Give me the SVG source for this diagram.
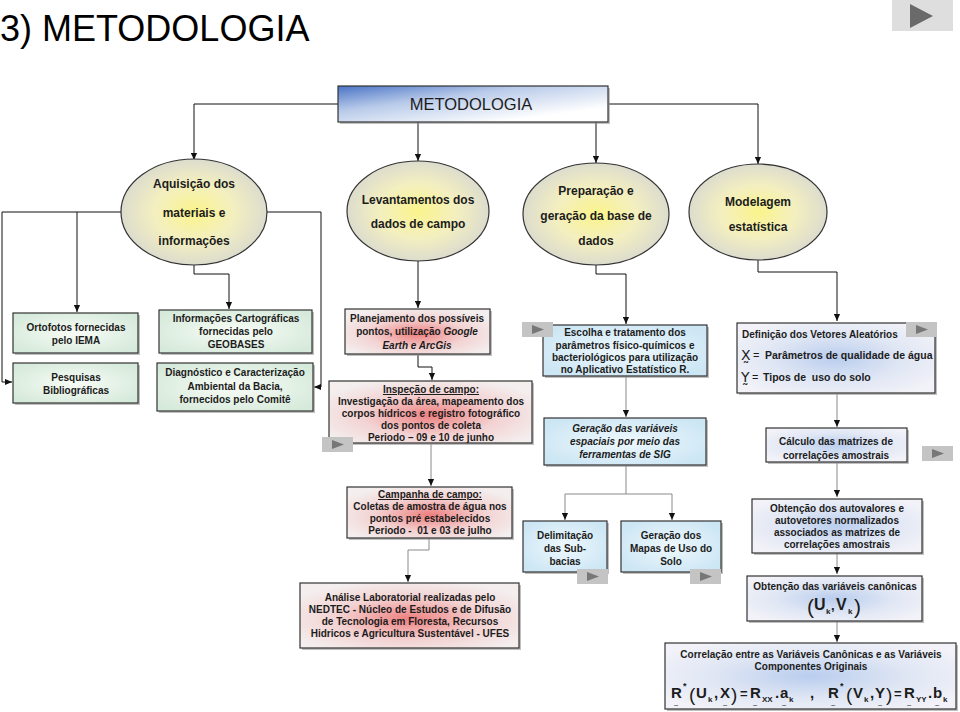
<svg xmlns="http://www.w3.org/2000/svg" width="960" height="712" viewBox="0 0 960 712">
<defs>
<radialGradient id="gY" cx="50%" cy="50%" r="55%"><stop offset="0" stop-color="#fbf48c"/><stop offset="0.5" stop-color="#f3efc0"/><stop offset="1" stop-color="#d8d8d0"/></radialGradient>
<radialGradient id="gG" cx="50%" cy="50%" r="60%"><stop offset="0" stop-color="#f8fcf6"/><stop offset="1" stop-color="#d6eadb"/></radialGradient>
<radialGradient id="gP" cx="50%" cy="55%" r="60%"><stop offset="0" stop-color="#ee7f7f"/><stop offset="0.55" stop-color="#f3d2d2"/><stop offset="1" stop-color="#f4eeee"/></radialGradient>
<radialGradient id="gC" cx="50%" cy="50%" r="60%"><stop offset="0" stop-color="#eef8fd"/><stop offset="1" stop-color="#cce6f4"/></radialGradient>
<radialGradient id="gL" cx="50%" cy="50%" r="60%"><stop offset="0" stop-color="#b9cdee"/><stop offset="0.55" stop-color="#dfe6f4"/><stop offset="1" stop-color="#f2f2f8"/></radialGradient>
<linearGradient id="gB" x1="0" y1="0" x2="1" y2="1"><stop offset="0" stop-color="#4a74c6"/><stop offset="0.35" stop-color="#b8cae9"/><stop offset="0.8" stop-color="#ffffff"/></linearGradient>
<marker id="ah" viewBox="0 0 8 8" refX="8" refY="4" markerWidth="7" markerHeight="7" markerUnits="userSpaceOnUse" orient="auto"><path d="M0,0.5 L8,4 L0,7.5 z" fill="#111"/></marker>
</defs>
<style>
.t{font-family:"Liberation Sans",Arial,Helvetica,sans-serif;font-weight:bold;font-size:10px;fill:#1c1c1c;text-anchor:middle}
.c{font-size:12px}
.l{text-anchor:start}
.n{font-weight:normal}
.i{font-style:italic}
.u{text-decoration:underline}
.pre{white-space:pre}
.b{stroke:#333;stroke-width:1.2}
.sh{fill:#8c8c8c;opacity:.55}
.ln{fill:none;stroke:#111;stroke-width:1}
.lg{fill:none;stroke:#8a8a8a;stroke-width:1}
.btn{fill:#c4c4c4}
.tri{fill:#777}
.f{font-size:15px;text-anchor:start}
.s{font-size:8px;text-anchor:start}
.p{font-size:19px;font-weight:normal;text-anchor:start}
.td{font-size:8px;font-weight:normal}
.v{font-family:"DejaVu Sans",sans-serif;font-weight:normal;font-size:14px;text-anchor:start}
</style>

<text x="0" y="41" style="font-family:'Liberation Sans',Arial,sans-serif;font-size:36px;fill:#000">3) METODOLOGIA</text>
<rect x="892" y="0" width="61" height="31" fill="#dedede"/>
<path d="M910,4 L933,16 L910,28 z" fill="#6a6a6a"/>

<g id="connectors">
<path class="ln" d="M338,104 H194 V160" marker-end="url(#ah)"/>
<path class="ln" d="M609,104 H758 V164" marker-end="url(#ah)"/>
<path class="ln" d="M418,122 V161" marker-end="url(#ah)"/>
<path class="ln" d="M596,122 V163" marker-end="url(#ah)"/>
<path class="ln" d="M121,212 H2 V382 H12" marker-end="url(#ah)"/>
<path class="ln" d="M77,212 V312" marker-end="url(#ah)"/>
<path class="ln" d="M194,265 V274 H229 V309" marker-end="url(#ah)"/>
<path class="ln" d="M267,212 H321 V387 H314" marker-end="url(#ah)"/>
<path class="ln" d="M418,260 V308" marker-end="url(#ah)"/>
<path class="ln" d="M418,355 V367 H432 V380" marker-end="url(#ah)"/>
<path class="lg" d="M431,444 V486" marker-end="url(#ah)"/>
<path class="lg" d="M429,539 V550 H408 V582" marker-end="url(#ah)"/>
<path class="ln" d="M596,264 V274 H626 V324" marker-end="url(#ah)"/>
<path class="lg" d="M626,377 V417" marker-end="url(#ah)"/>
<path class="lg" d="M626,466 V494"/>
<path class="lg" d="M565,494 H672"/>
<path class="lg" d="M565,494 V520" marker-end="url(#ah)"/>
<path class="lg" d="M672,494 V520" marker-end="url(#ah)"/>
<path class="ln" d="M758,259 V272 H837 V321" marker-end="url(#ah)"/>
<path class="lg" d="M837,394 V427" marker-end="url(#ah)"/>
<path class="lg" d="M837,463 V497" marker-end="url(#ah)"/>
<path class="lg" d="M837,553 V574" marker-end="url(#ah)"/>
<path class="lg" d="M837,621 V642" marker-end="url(#ah)"/>
</g>

<g id="metodologia">
<rect class="sh" x="340" y="88" width="270" height="36"/>
<rect class="b" x="338" y="86" width="270" height="36" fill="url(#gB)"/>
<text class="t n" x="471" y="110" style="font-size:16.5px">METODOLOGIA</text>
</g>

<g id="c1"><ellipse class="b" cx="194" cy="212" rx="73" ry="53" fill="url(#gY)"/>
<text class="t c" x="194" y="188">Aquisição dos</text><text class="t c" x="194" y="217">materiais e</text><text class="t c" x="194" y="245">informações</text></g>
<g id="c2"><ellipse class="b" cx="418" cy="211" rx="71" ry="50" fill="url(#gY)"/>
<text class="t c" x="418" y="204">Levantamentos dos</text><text class="t c" x="418" y="228">dados de campo</text></g>
<g id="c3"><ellipse class="b" cx="596" cy="214" rx="73" ry="51" fill="url(#gY)"/>
<text class="t c" x="596" y="195">Preparação e</text><text class="t c" x="596" y="220">geração da base de</text><text class="t c" x="596" y="245">dados</text></g>
<g id="c4"><ellipse class="b" cx="758" cy="212" rx="69" ry="48" fill="url(#gY)"/>
<text class="t c" x="758" y="206">Modelagem</text><text class="t c" x="758" y="231">estatística</text></g>

<g id="ortofotos"><rect class="sh" x="15" y="315" width="125" height="40"/><rect class="b" x="13" y="313" width="125" height="40" fill="url(#gG)"/>
<text class="t" x="76" y="331">Ortofotos fornecidas</text><text class="t" x="76" y="344">pelo IEMA</text></g>
<g id="pesquisas"><rect class="sh" x="15" y="365" width="125" height="40"/><rect class="b" x="13" y="363" width="125" height="40" fill="url(#gG)"/>
<text class="t" x="76" y="381">Pesquisas</text><text class="t" x="76" y="394">Bibliográficas</text></g>
<g id="informacoes"><rect class="sh" x="161" y="312" width="153" height="43"/><rect class="b" x="159" y="310" width="153" height="43" fill="url(#gG)"/>
<text class="t" x="236" y="322">Informações Cartográficas</text><text class="t" x="236" y="335">fornecidas pelo</text><text class="t" x="236" y="348">GEOBASES</text></g>
<g id="diagnostico"><rect class="sh" x="159" y="365" width="156" height="48"/><rect class="b" x="157" y="363" width="156" height="48" fill="url(#gG)"/>
<text class="t" x="235" y="376">Diagnóstico e Caracterização</text><text class="t" x="235" y="390">Ambiental da Bacia,</text><text class="t" x="235" y="403">fornecidos pelo Comitê</text></g>

<g id="planejamento"><rect class="sh" x="347" y="311" width="145" height="45"/><rect class="b" x="345" y="309" width="145" height="45" fill="url(#gP)"/>
<text class="t" x="417" y="322">Planejamento dos possíveis</text><text class="t" x="417" y="335">pontos, utilização <tspan class="i">Google</tspan></text><text class="t i" x="417" y="349">Earth e ArcGis</text></g>
<g id="inspecao"><rect class="sh" x="331" y="383" width="203" height="62"/><rect class="b" x="329" y="381" width="203" height="62" fill="url(#gP)"/>
<text class="t u" x="431" y="393">Inspeção de campo:</text><text class="t" x="431" y="405">Investigação da área, mapeamento dos</text><text class="t" x="431" y="417">corpos hídricos e registro fotográfico</text><text class="t" x="431" y="429">dos pontos de coleta</text><text class="t" x="431" y="441">Periodo – 09 e 10 de junho</text></g>
<g id="campanha"><rect class="sh" x="349" y="489" width="165" height="51"/><rect class="b" x="347" y="487" width="165" height="51" fill="url(#gP)"/>
<text class="t u" x="430" y="498">Campanha de campo:</text><text class="t" x="430" y="510">Coletas de amostra de água nos</text><text class="t" x="430" y="522">pontos pré estabelecidos</text><text class="t pre" x="430" y="534">Periodo -  01 e 03 de julho</text></g>
<g id="analise"><rect class="sh" x="302" y="585" width="219" height="65"/><rect class="b" x="300" y="583" width="219" height="65" fill="url(#gP)"/>
<text class="t" x="410" y="601">Análise Laboratorial realizadas pelo</text><text class="t" x="410" y="613">NEDTEC - Núcleo de Estudos e de Difusão</text><text class="t" x="410" y="625">de Tecnologia em Floresta, Recursos</text><text class="t" x="410" y="637">Hidricos e Agricultura Sustentável - UFES</text></g>

<g id="escolha"><rect class="sh" x="545" y="327" width="164" height="51"/><rect class="b" x="543" y="325" width="164" height="51" fill="url(#gC)"/>
<text class="t" x="625" y="336">Escolha e tratamento dos</text><text class="t" x="625" y="349">parâmetros físico-químicos e</text><text class="t" x="625" y="361">bacteriológicos para utilização</text><text class="t" x="625" y="373">no Aplicativo Estatístico R.</text></g>
<g id="geracao"><rect class="sh" x="546" y="420" width="162" height="47"/><rect class="b" x="544" y="418" width="162" height="47" fill="url(#gC)"/>
<text class="t i" x="625" y="432">Geração das variáveis</text><text class="t i" x="625" y="445">espaciais por meio das</text><text class="t i" x="625" y="458">ferramentas de SIG</text></g>
<g id="delimitacao"><rect class="sh" x="525" y="523" width="84" height="51"/><rect class="b" x="523" y="521" width="84" height="51" fill="url(#gC)"/>
<text class="t" x="565" y="539">Delimitação</text><text class="t" x="565" y="552">das Sub-</text><text class="t" x="565" y="565">bacias</text></g>
<g id="mapas"><rect class="sh" x="623" y="523" width="100" height="51"/><rect class="b" x="621" y="521" width="100" height="51" fill="url(#gC)"/>
<text class="t" x="671" y="539">Geração dos</text><text class="t" x="671" y="552">Mapas de Uso do</text><text class="t" x="671" y="565">Solo</text></g>

<g id="definicao"><rect class="sh" x="739" y="325" width="198" height="70"/><rect class="b" x="737" y="323" width="198" height="70" fill="url(#gL)"/>
<text class="t l" x="742" y="338">Definição dos Vetores Aleatórios</text>
<text class="t v" x="741" y="360">X̰</text>
<text class="t n" x="753" y="359" style="font-size:11px;text-anchor:start">=</text>
<text class="t l" x="765" y="359" style="font-size:10.5px">Parâmetros de qualidade de água</text>
<text class="t v" x="741" y="382">Y̰</text>
<text class="t n" x="752" y="381" style="font-size:11px;text-anchor:start">=</text>
<text class="t l pre" x="763" y="381" style="font-size:10.5px">Tipos de  uso do solo</text></g>
<g id="calculo"><rect class="sh" x="768" y="430" width="141" height="34"/><rect class="b" x="766" y="428" width="141" height="34" fill="url(#gL)"/>
<text class="t" x="836" y="445">Cálculo das matrizes de</text><text class="t" x="836" y="459">correlações amostrais</text></g>
<g id="autovalores"><rect class="sh" x="754" y="501" width="170" height="54"/><rect class="b" x="752" y="499" width="170" height="54" fill="url(#gL)"/>
<text class="t" x="837" y="512">Obtenção dos autovalores e</text><text class="t" x="837" y="524">autovetores normalizados</text><text class="t" x="837" y="536">associados as matrizes de</text><text class="t" x="837" y="548">correlações amostrais</text></g>
<g id="canonicas"><rect class="sh" x="749" y="578" width="175" height="45"/><rect class="b" x="747" y="576" width="175" height="45" fill="url(#gL)"/>
<text class="t" x="835" y="590">Obtenção das variáveis canônicas</text>
<text class="t p" x="807" y="614" style="font-size:21px">(</text><text class="t f" x="814" y="610" style="font-size:16px">U</text><text class="t s" x="826" y="614">k</text><text class="t f" x="831" y="610" style="font-size:13px">,</text><text class="t f" x="836" y="610" style="font-size:16px">V</text><text class="t s" x="848" y="614">k</text><text class="t p" x="854" y="614" style="font-size:21px">)</text></g>
<g id="correlacao"><rect class="sh" x="667" y="645" width="291" height="66"/><rect class="b" x="665" y="643" width="291" height="66" fill="url(#gL)"/>
<text class="t" x="811" y="658">Correlação entre as Variáveis Canônicas e as Variáveis</text><text class="t" x="811" y="670">Componentes Originais</text>
<text class="t f" x="671" y="698">R</text><text class="t s" x="683" y="689" style="font-size:9px">*</text><text class="t p" x="689" y="701">(</text><text class="t f" x="696" y="698">U</text><text class="t s" x="708" y="702">k</text><text class="t f" x="714" y="698">,</text><text class="t f" x="720" y="698">X</text><text class="t p" x="731" y="701">)</text><text class="t f" x="740" y="698" style="font-size:13px">=</text><text class="t f" x="750" y="698">R</text><text class="t s" x="762" y="702">XX</text><text class="t f" x="775" y="698">.</text><text class="t f" x="780" y="698">a</text><text class="t s" x="789" y="702">k</text>
<text class="t f" x="810" y="698">,</text>
<text class="t f" x="828" y="698">R</text><text class="t s" x="840" y="689" style="font-size:9px">*</text><text class="t p" x="846" y="701">(</text><text class="t f" x="853" y="698">V</text><text class="t s" x="864" y="702">k</text><text class="t f" x="870" y="698">,</text><text class="t f" x="875" y="698">Y</text><text class="t p" x="886" y="701">)</text><text class="t f" x="894" y="698" style="font-size:13px">=</text><text class="t f" x="904" y="698">R</text><text class="t s" x="916" y="702">YY</text><text class="t f" x="928" y="698">.</text><text class="t f" x="933" y="698">b</text><text class="t s" x="943" y="702">k</text>
<text class="t td" x="676" y="708">~</text><text class="t td" x="725" y="708">~</text><text class="t td" x="755" y="708">~</text><text class="t td" x="784" y="708">~</text><text class="t td" x="833" y="708">~</text><text class="t td" x="880" y="708">~</text><text class="t td" x="909" y="708">~</text><text class="t td" x="937" y="708">~</text></g>

<g id="buttons">
<rect class="btn" x="322" y="437" width="31" height="15"/><path class="tri" d="M332,440 L344,444.5 L332,449 z"/>
<rect class="btn" x="522" y="322" width="31" height="15"/><path class="tri" d="M532,325 L544,329.5 L532,334 z"/>
<rect class="btn" x="906" y="322" width="31" height="15"/><path class="tri" d="M916,325 L928,329.5 L916,334 z"/>
<rect class="btn" x="922" y="446" width="31" height="15"/><path class="tri" d="M932,449 L944,453.5 L932,458 z"/>
<rect class="btn" x="577" y="569" width="31" height="15"/><path class="tri" d="M587,572 L599,576.5 L587,581 z"/>
<rect class="btn" x="690" y="569" width="31" height="15"/><path class="tri" d="M700,572 L712,576.5 L700,581 z"/>
</g>
</svg>
